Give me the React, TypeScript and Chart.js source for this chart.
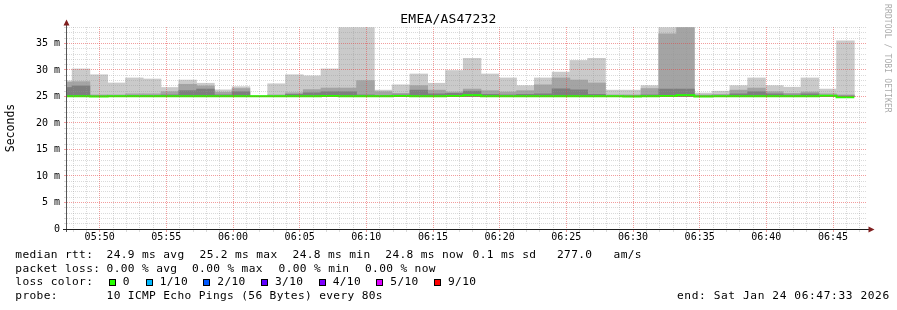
import React, { useEffect, useRef } from 'react';
import { Chart, registerables } from 'chart.js';

Chart.register(...registerables);

// ---------- data ----------
const chartTitle = 'EMEA/AS47232';
const yAxisTitle = 'Seconds';
const viewStart = '05:47:33';
const viewEnd = '06:47:33';
const firstBinStart = '05:46:36';
const binSeconds = 80;
const yMax = 38.11;
const smokeFloor = 25.0;

const xTickLabels = ['05:50', '05:55', '06:00', '06:05', '06:10', '06:15', '06:20', '06:25', '06:30', '06:35', '06:40', '06:45'];
const yTickLabels = ['0', '5 m', '10 m', '15 m', '20 m', '25 m', '30 m', '35 m'];

// outer smoke band (max ping), ms
const lightTop = [27.95, 30.2, 29.1, 27.55, 28.5, 28.3, 26.7, 28.1, 27.5, 26.25, 26.85, 25.15, 27.4, 29.1, 28.9, 30.2,
  38.0, 38.0, 26.2, 27.2, 29.25, 27.5, 29.9, 32.2, 29.25, 28.5, 27.05, 28.5, 29.6, 31.8, 32.2, 26.2,
  26.2, 27.05, 38.0, 38.0, 25.65, 26.0, 27.05, 28.5, 27.05, 26.75, 28.5, 26.4, 35.5];
// second smoke band, ms
const midTop = [27.7, 27.8, 25.3, 25.3, 25.5, 25.5, 25.9, 27.3, 27.0, 25.8, 26.5, 25.1, 25.3, 25.7, 26.3, 26.6,
  26.6, 28.0, 25.9, 25.6, 27.05, 26.2, 25.85, 26.4, 26.1, 25.85, 26.1, 27.2, 28.5, 28.1, 27.55, 25.3,
  25.3, 26.5, 36.8, 38.0, 25.3, 25.4, 26.2, 26.6, 25.9, 25.6, 25.85, 25.5, 25.3];
// third smoke band, ms
const darkTop = [26.7, 27.0, 25.1, 25.1, 25.2, 25.2, 25.3, 26.1, 26.4, 25.3, 25.9, 25.0, 25.1, 25.4, 25.7, 25.9,
  25.9, 25.3, 25.2, 25.3, 26.2, 25.5, 25.6, 26.0, 25.4, 25.3, 25.4, 25.5, 26.45, 26.25, 25.4, 25.1,
  25.1, 25.3, 26.4, 26.4, 25.1, 25.1, 25.5, 25.9, 25.5, 25.3, 25.5, 25.2, 25.1];
// median rtt, ms
const medianRtt = [25.05, 25.05, 25.0, 25.05, 25.05, 25.05, 25.05, 25.05, 25.05, 25.05, 25.05, 25.05, 25.05, 25.05, 25.05, 25.1,
  25.05, 25.05, 25.05, 25.1, 25.05, 25.05, 25.1, 25.25, 25.05, 25.05, 25.05, 25.05, 25.05, 25.05, 25.05, 25.05,
  25.0, 25.05, 25.1, 25.25, 25.0, 25.05, 25.05, 25.05, 25.05, 25.05, 25.05, 25.15, 24.85];

const rttLabel = 'median rtt:';
const rttStats = ['24.9 ms avg', '25.2 ms max', '24.8 ms min', '24.8 ms now', '0.1 ms sd', '277.0', 'am/s'];
const lossLabel = 'packet loss:';
const lossStats = ['0.00 % avg', '0.00 % max', '0.00 % min', '0.00 % now'];
const lossColorLabel = 'loss color:';
const lossLabels = ['0', '1/10', '2/10', '3/10', '4/10', '5/10', '9/10'];
const lossColors = ['#26ff00', '#00b8ff', '#0059ff', '#5e00ff', '#7e00ff', '#dd00ff', '#ff0000'];
const probeLabel = 'probe:';
const probeText = '10 ICMP Echo Pings (56 Bytes) every 80s';
const endText = 'end: Sat Jan 24 06:47:33 2026';
const watermark = 'RRDTOOL / TOBI OETIKER';

// ---------- layout / style ----------
const MONO = "'DejaVu Sans Mono', monospace";
const MINOR = 'rgba(150,150,150,0.35)';
const MAJOR = 'rgba(230,60,60,0.5)';
const SMOKE = ['#cacaca', '#a4a4a4', '#7e7e7e'];
const rttX = [106.6, 199.6, 292.6, 385.3, 472.6, 557, 613.6];
const lossX = [106.6, 192, 278.6, 365];
const boxX = [108.7, 145.7, 203.3, 261, 318.7, 376.3, 434];
const lineTop = [248.8, 262.5, 276.4, 289.8];

const toSec = (s: string) => {
  const p = s.split(':').map(Number);
  return p[0] * 3600 + p[1] * 60 + (p[2] || 0);
};
const fmt = (v: number) => {
  const h = Math.floor(v / 3600);
  const m = Math.floor((v % 3600) / 60);
  return String(h).padStart(2, '0') + ':' + String(m).padStart(2, '0');
};

const axesPlugin = {
  id: 'rrdAxes',
  afterDraw(chart: any) {
    const { ctx, chartArea: a } = chart;
    ctx.save();
    ctx.lineWidth = 1;
    ctx.strokeStyle = '#555';
    ctx.beginPath();
    ctx.moveTo(a.left - 0.5, a.bottom + 3);
    ctx.lineTo(a.left - 0.5, a.top - 3);
    ctx.stroke();
    ctx.strokeStyle = '#1f1f1f';
    ctx.beginPath();
    ctx.moveTo(a.left - 4, a.bottom + 0.5);
    ctx.lineTo(a.right + 2, a.bottom + 0.5);
    ctx.stroke();
    ctx.fillStyle = '#801f1f';
    ctx.beginPath();
    ctx.moveTo(a.left - 3.5, a.top - 1.5);
    ctx.lineTo(a.left + 2.5, a.top - 1.5);
    ctx.lineTo(a.left - 0.5, a.top - 7.5);
    ctx.closePath();
    ctx.fill();
    ctx.beginPath();
    ctx.moveTo(a.right + 1.5, a.bottom - 2.5);
    ctx.lineTo(a.right + 1.5, a.bottom + 3.5);
    ctx.lineTo(a.right + 7.5, a.bottom + 0.5);
    ctx.closePath();
    ctx.fill();
    ctx.restore();
  },
};

export default function App() {
  const ref = useRef<HTMLCanvasElement>(null);

  useEffect(() => {
    if (!ref.current) return;
    const start = toSec(firstBinStart);
    const centers = lightTop.map((_, i) => start + binSeconds * i + binSeconds / 2);
    const band = (tops: number[]) => tops.map((t, i) => ({ x: centers[i], y: [smokeFloor, t] }));
    const medPts = medianRtt.map((v, i) => ({ x: centers[i], y: v }));
    medPts.push({ x: centers[centers.length - 1] + binSeconds / 2, y: medianRtt[medianRtt.length - 1] });
    const xMin = toSec(viewStart);
    const xMax = toSec(viewEnd);

    const barCommon = {
      type: 'bar' as const,
      stack: 'smoke',
      barThickness: 'flex' as const,
      barPercentage: 1,
      categoryPercentage: 1,
      borderWidth: 0,
      clip: 0,
    };

    const chart = new Chart(ref.current, {
      type: 'bar',
      data: {
        datasets: [
          { ...barCommon, data: band(lightTop), backgroundColor: SMOKE[0], order: 3 } as any,
          { ...barCommon, data: band(midTop), backgroundColor: SMOKE[1], order: 2 } as any,
          { ...barCommon, data: band(darkTop), backgroundColor: SMOKE[2], order: 1 } as any,
          {
            type: 'line',
            data: medPts,
            borderColor: lossColors[0],
            borderWidth: 2,
            pointRadius: 0,
            stepped: 'middle',
            fill: false,
            order: 0,
            clip: 0,
          } as any,
        ],
      },
      options: {
        responsive: false,
        animation: false,
        events: [],
        layout: { padding: { left: 0, right: 30, top: 27, bottom: 61 } },
        plugins: { legend: { display: false }, tooltip: { enabled: false }, title: { display: false } },
        scales: {
          x: {
            type: 'linear',
            min: xMin,
            max: xMax,
            offset: false,
            afterBuildTicks: (s: any) => {
              const t = [];
              for (let v = Math.ceil(xMin / 60) * 60; v <= xMax; v += 60) t.push({ value: v });
              s.ticks = t;
            },
            afterFit: (s: any) => {
              s.height = 20;
            },
            grid: {
              offset: false,
              z: 1,
              color: (c: any) => (c.tick && xTickLabels.includes(fmt(c.tick.value)) ? MAJOR : MINOR),
              tickColor: (c: any) => (c.tick && xTickLabels.includes(fmt(c.tick.value)) ? MAJOR : MINOR),
              tickLength: 3,
            },
            border: { display: false, dash: [1, 1] },
            ticks: {
              autoSkip: false,
              maxRotation: 0,
              minRotation: 0,
              padding: 0,
              color: '#000',
              font: { family: MONO, size: 10, lineHeight: 1 },
              callback: (v: any) => {
                const l = fmt(Number(v));
                return xTickLabels.includes(l) ? l : '';
              },
            },
          },
          y: {
            min: 0,
            max: yMax,
            stacked: false,
            afterFit: (s: any) => {
              s.width = 67;
            },
            grid: {
              z: 1,
              color: (c: any) => (c.tick && c.tick.value % 5 === 0 ? MAJOR : MINOR),
              tickColor: (c: any) => (c.tick && c.tick.value % 5 === 0 ? MAJOR : MINOR),
              tickLength: 3,
            },
            border: { display: false, dash: [1, 1] },
            ticks: {
              stepSize: 1,
              includeBounds: false,
              maxTicksLimit: 100,
              autoSkip: false,
              padding: 4,
              color: '#000',
              font: { family: MONO, size: 10 },
              callback: (v: any) => (Number(v) % 5 === 0 ? yTickLabels[Number(v) / 5] : ''),
            },
            title: {
              display: true,
              text: yAxisTitle,
              color: '#000',
              font: { family: MONO, size: 11.5 },
              padding: { top: 4, bottom: 0 },
            },
          },
        },
      } as any,
      plugins: [axesPlugin],
    });
    return () => chart.destroy();
  }, []);

  const txt: React.CSSProperties = {
    position: 'absolute',
    fontFamily: MONO,
    fontSize: 11.2,
    letterSpacing: 0.35,
    lineHeight: 1,
    whiteSpace: 'pre',
    color: '#000',
  };

  return (
    <div style={{ position: 'absolute', left: 0, top: 0, width: 897, height: 310, background: '#fff', overflow: 'hidden' }}>
      <canvas ref={ref} width={897} height={310} style={{ position: 'absolute', left: 0, top: 0 }} />
      <div
        style={{
          position: 'absolute', left: 0, top: 12.3, width: 897, textAlign: 'center',
          fontFamily: MONO, fontSize: 13, letterSpacing: 0.2, lineHeight: 1, color: '#000', whiteSpace: 'pre',
        }}
      >
        {chartTitle}
      </div>
      <div
        style={{
          position: 'absolute', left: 883, top: 4, writingMode: 'vertical-rl', fontFamily: MONO,
          fontSize: 8, letterSpacing: 0.13, lineHeight: 1, color: '#aaa', whiteSpace: 'pre',
        }}
      >
        {watermark}
      </div>

      <div style={{ ...txt, left: 15.3, top: lineTop[0] }}>{rttLabel}</div>
      {rttStats.map((s, i) => (
        <div key={'r' + i} style={{ ...txt, left: rttX[i], top: lineTop[0] }}>{s}</div>
      ))}

      <div style={{ ...txt, left: 15.3, top: lineTop[1] }}>{lossLabel}</div>
      {lossStats.map((s, i) => (
        <div key={'l' + i} style={{ ...txt, left: lossX[i], top: lineTop[1] }}>{s}</div>
      ))}

      <div style={{ ...txt, left: 15.3, top: lineTop[2] }}>{lossColorLabel}</div>
      {lossLabels.map((s, i) => (
        <React.Fragment key={'c' + i}>
          <div
            style={{
              position: 'absolute', left: boxX[i], top: 278.5, width: 7, height: 7, boxSizing: 'border-box',
              border: '1px solid #000', background: lossColors[i],
            }}
          />
          <div style={{ ...txt, left: boxX[i] + 14, top: lineTop[2] }}>{s}</div>
        </React.Fragment>
      ))}

      <div style={{ ...txt, left: 15.3, top: lineTop[3] }}>{probeLabel}</div>
      <div style={{ ...txt, left: 106.6, top: lineTop[3] }}>{probeText}</div>
      <div style={{ ...txt, left: 677, top: lineTop[3], letterSpacing: 0.6 }}>{endText}</div>
    </div>
  );
}
